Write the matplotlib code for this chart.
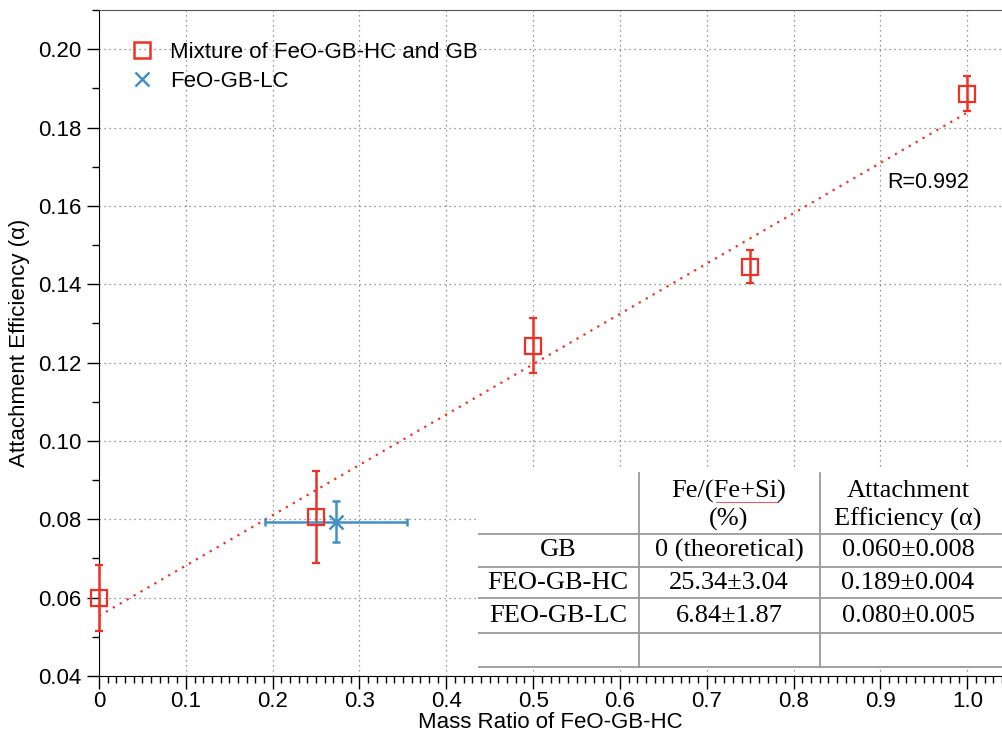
import numpy as np
import matplotlib
matplotlib.use("Agg")
import matplotlib.pyplot as plt
from matplotlib.ticker import MultipleLocator, FormatStrFormatter
from matplotlib.lines import Line2D

# ---- data ----
mix_x = [0.0, 0.25, 0.5, 0.75, 1.0]
mix_y = [0.0600, 0.0805, 0.1243, 0.1445, 0.1886]
mix_err = [0.0084, 0.0117, 0.0070, 0.0043, 0.0045]

lc_x = [0.273]
lc_y = [0.0794]
lc_xerr = [0.0815]
lc_yerr = [0.0052]

r_label = "R=0.992"

table_header1 = ["", "Fe/(Fe+Si)", "Attachment"]
table_header2 = ["", "(%)", "Efficiency (\u03b1)"]
table_rows = [
    ["GB", "0 (theoretical)", "0.060\u00b10.008"],
    ["FEO-GB-HC", "25.34\u00b13.04", "0.189\u00b10.004"],
    ["FEO-GB-LC", "6.84\u00b11.87", "0.080\u00b10.005"],
    ["", "", ""],
]

RED = "#ee3124"
BLUE = "#4390c6"

plt.rcParams['font.family'] = ['Liberation Sans', 'DejaVu Sans']

W, H = 1002, 732
fig = plt.figure(figsize=(W / 100, H / 100), dpi=100)
ax = fig.add_axes([99 / W, 1 - 676 / H, (1002 - 99) / W, (676 - 10) / H])

ax.set_xlim(0, 1.04)
ax.set_ylim(0.04, 0.21)

# fit line
coef = np.polyfit(mix_x, mix_y, 1)
fx = np.array([0.0, 1.0])
ax.plot(fx, np.polyval(coef, fx), color=RED, lw=1.6, ls=(0, (1, 2.6)), zorder=2)

ax.errorbar(mix_x, mix_y, yerr=mix_err, fmt='s', mfc='none', mec=RED, mew=1.6,
            ms=12, color=RED, ecolor=RED, elinewidth=1.8, capsize=3, capthick=1.8,
            zorder=4, clip_on=False)
ax.errorbar(lc_x, lc_y, xerr=lc_xerr, yerr=lc_yerr, fmt='x', mec=BLUE, mew=1.8,
            ms=10, color=BLUE, ecolor=BLUE, elinewidth=1.8, capsize=3, capthick=1.8,
            zorder=4)

ax.text(0.908, 0.166, r_label, fontsize=15.5, va='center', ha='left')

# axes styling
ax.xaxis.set_minor_locator(MultipleLocator(0.01))
ax.yaxis.set_major_locator(MultipleLocator(0.02))
ax.yaxis.set_minor_locator(MultipleLocator(0.01))
ax.yaxis.set_major_formatter(FormatStrFormatter('%.2f'))
ax.set_xticks(np.arange(0, 1.01, 0.1))
ax.set_xticklabels(["0"] + ["%.1f" % v for v in np.arange(0.1, 1.01, 0.1)])

ax.tick_params(axis='both', which='major', direction='out', length=9, width=1,
               labelsize=16)
ax.tick_params(axis='x', which='major', pad=2)
ax.tick_params(axis='both', which='minor', direction='out', length=5, width=1)
ax.spines['right'].set_visible(False)
ax.spines['top'].set_color('#555555')
ax.grid(True, which='major', ls=(0, (1, 3)), color='#777777', lw=0.9)
ax.set_axisbelow(True)

ax.set_xlabel("Mass Ratio of FeO-GB-HC", fontsize=16, labelpad=0)
ax.set_ylabel("Attachment Efficiency (\u03b1)", fontsize=16, labelpad=6)

handles = [
    Line2D([], [], ls='none', marker='s', mfc='none', mec=RED, mew=1.8, ms=12),
    Line2D([], [], ls='none', marker='x', mec=BLUE, mew=1.8, ms=10),
]
labels = ["Mixture of FeO-GB-HC and GB", "FeO-GB-LC"]
ax.legend(handles, labels, loc='upper left', bbox_to_anchor=(0.025, 0.965), frameon=False,
          fontsize=16, handlelength=1.0, handletextpad=0.8,
          labelspacing=0.35, borderaxespad=0)

# ---- table inset ----
tx0, tx1, ty0, ty1 = 478, 1002, 470, 668
tax = fig.add_axes([tx0 / W, 1 - ty1 / H, (tx1 - tx0) / W, (ty1 - ty0) / H])
tax.set_xlim(tx0, tx1)
tax.set_ylim(ty1, ty0)
tax.set_facecolor('white')
for s in tax.spines.values():
    s.set_visible(False)
tax.set_xticks([])
tax.set_yticks([])

line_c = '#9a9a9a'
for yy in [534, 567, 598, 633, 667]:
    tax.plot([tx0, tx1], [yy, yy], color=line_c, lw=1.3)
for xx in [639, 820]:
    tax.plot([xx, xx], [473, 667], color=line_c, lw=1.3)

col_cx = [558, 729, 908]
serif = ['Liberation Serif', 'DejaVu Serif']
fs = 19
for i, (h1, h2) in enumerate(zip(table_header1, table_header2)):
    tax.text(col_cx[i], 491, h1, ha='center', va='center', fontsize=fs, family=serif)
    tax.text(col_cx[i], 519, h2, ha='center', va='center', fontsize=fs, family=serif)
tax.plot([716, 778], [502, 502], color='#e06060', lw=0.8)
row_cy = [550, 583, 616, 650]
for r, row in enumerate(table_rows):
    for c, val in enumerate(row):
        tax.text(col_cx[c], row_cy[r], val, ha='center', va='center', fontsize=fs, family=serif)

fig.savefig("out.png", dpi=100)
